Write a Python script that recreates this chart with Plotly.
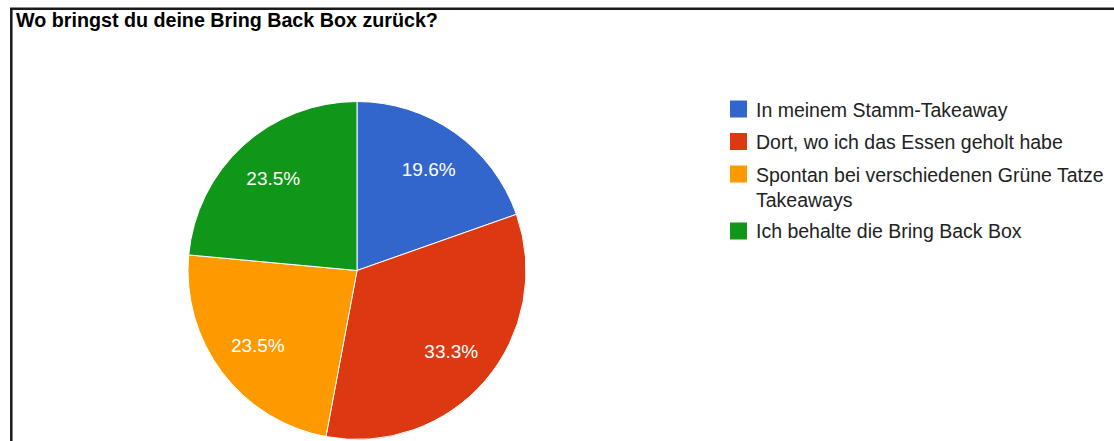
import plotly.graph_objects as go

# Survey answers: "Wo bringst du deine Bring Back Box zurück?"
labels = [
    "In meinem Stamm-Takeaway",
    "Dort, wo ich das Essen geholt habe",
    "Spontan bei verschiedenen Grüne Tatze Takeaways",
    "Ich behalte die Bring Back Box",
]
legend_text = [
    "In meinem Stamm-Takeaway",
    "Dort, wo ich das Essen geholt habe",
    "Spontan bei verschiedenen Grüne Tatze<br>Takeaways",
    "Ich behalte die Bring Back Box",
]
counts = [10, 17, 12, 12]
colors = ["#3366CC", "#DC3912", "#FF9900", "#109618"]
title = "Wo bringst du deine Bring Back Box zurück?"

W, H = 1114, 441
FONT = "Arial, 'Liberation Sans', sans-serif"


def px_x(x):
    return x / W


def px_y(y):
    return 1 - y / H


domain = dict(x=[px_x(188), px_x(526)], y=[px_y(439.5), px_y(101.5)])

# filled slices
pie = go.Pie(
    labels=labels,
    values=counts,
    sort=False,
    direction="clockwise",
    rotation=0,
    marker=dict(colors=colors, line=dict(color="white", width=1)),
    textinfo="none",
    hoverinfo="label+value+percent",
    showlegend=False,
    domain=domain,
)
# transparent ring on top that carries the percentage labels further out
label_ring = go.Pie(
    labels=labels,
    values=counts,
    sort=False,
    direction="clockwise",
    rotation=0,
    hole=0.47,
    marker=dict(colors=["rgba(0,0,0,0)"] * len(counts), line=dict(width=0)),
    texttemplate="%{percent:.1%}",
    textposition="inside",
    insidetextorientation="horizontal",
    textfont=dict(family=FONT, size=19, color="white"),
    hoverinfo="skip",
    showlegend=False,
    domain=domain,
)
fig = go.Figure([pie, label_ring])

shapes = [
    # frame: left and top edges
    dict(type="line", xref="paper", yref="paper",
         x0=px_x(11.3), x1=px_x(11.3), y0=px_y(8.7), y1=px_y(H + 2),
         line=dict(color="#1a1a1a", width=2.5)),
    dict(type="line", xref="paper", yref="paper",
         x0=px_x(10), x1=px_x(W + 2), y0=px_y(8.7), y1=px_y(8.7),
         line=dict(color="#1a1a1a", width=2.5)),
]
annotations = [
    dict(text=f"<b>{title}</b>", xref="paper", yref="paper",
         x=px_x(14), y=px_y(20.5), xanchor="left", yanchor="middle",
         showarrow=False, font=dict(family=FONT, size=19.7, color="#000000")),
]

# legend: colour squares with their labels
sq = 17
centers = [109, 141.5, 174, 231]
for txt, col, cy in zip(legend_text, colors, centers):
    shapes.append(dict(type="rect", xref="paper", yref="paper",
                       x0=px_x(730), x1=px_x(730 + sq),
                       y0=px_y(cy - sq / 2), y1=px_y(cy + sq / 2),
                       fillcolor=col, line=dict(width=0)))
    annotations.append(dict(text=txt, xref="paper", yref="paper",
                            x=px_x(754), y=px_y(cy - 12.5), xanchor="left", yanchor="top",
                            align="left", showarrow=False,
                            font=dict(family=FONT, size=19.5, color="#222222")))

fig.update_layout(
    width=W, height=H,
    margin=dict(l=0, r=0, t=0, b=0),
    paper_bgcolor="white", plot_bgcolor="white",
    shapes=shapes, annotations=annotations,
    showlegend=False,
)

fig.write_html("out.html")
